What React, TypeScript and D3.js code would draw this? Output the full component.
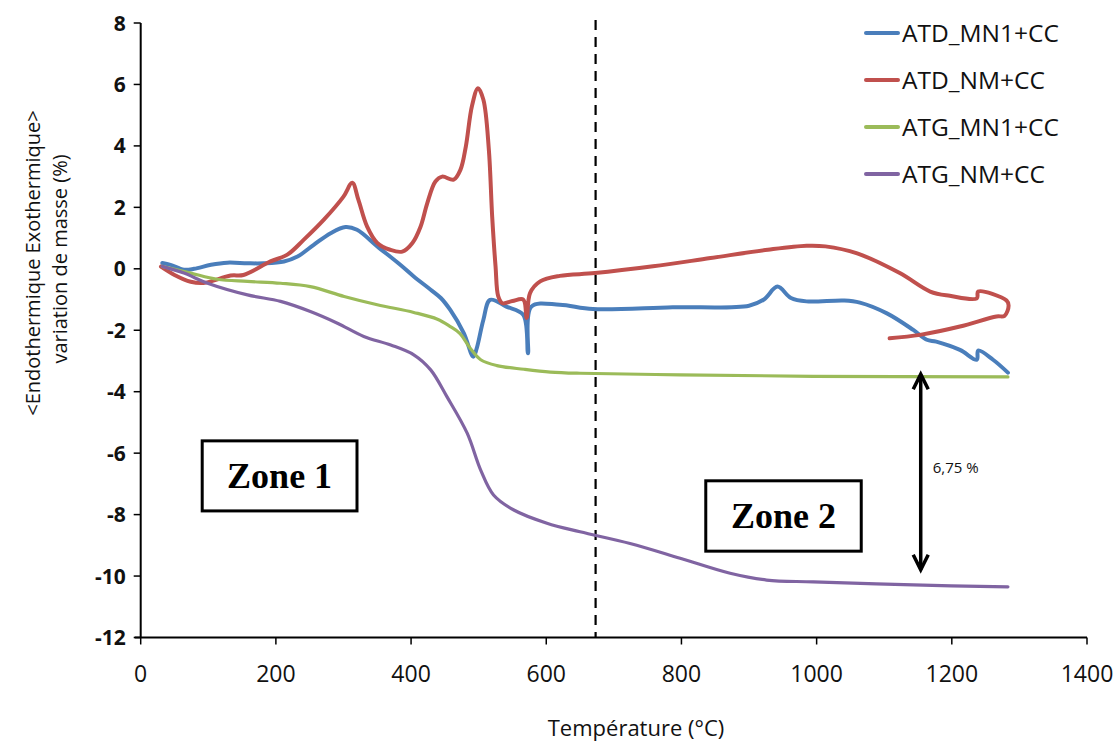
import React from "react";
import * as d3 from "d3";

type Pt = [number, number];

const seriesNames = ["ATD_MN1+CC", "ATD_NM+CC", "ATG_MN1+CC", "ATG_NM+CC"];
const seriesColors = ["#4a7ebb", "#c0504d", "#9bbb59", "#8064a2"];

const atdMN1: Pt[] = [[32,0.19],[44,0.13],[64,-0.03],[79,0],[104,0.13],[128,0.2],[158,0.18],[182,0.18],[212,0.24],[232,0.4],[256,0.78],[281,1.16],[303,1.36],[320,1.27],[350,0.73],[384,0.13],[404,-0.25],[429,-0.68],[444,-0.95],[458,-1.34],[478,-2.09],[492,-2.86],[497,-2.6],[507,-1.66],[517,-1.01],[541,-1.23],[566,-1.5],[573,-2.75],[578,-1.23],[620,-1.17],[669,-1.31],[787,-1.25],[900,-1.2],[922,-1.0],[942,-0.58],[962,-0.95],[985,-1.06],[1041,-1.03],[1064,-1.1],[1104,-1.45],[1143,-1.99],[1163,-2.31],[1177,-2.37],[1212,-2.64],[1237,-2.96],[1239,-2.66],[1261,-2.96],[1283,-3.38]];

const atdNM: Pt[] = [[30,0.07],[50,-0.2],[74,-0.42],[93,-0.46],[133,-0.22],[152,-0.2],[192,0.24],[217,0.46],[241,0.94],[271,1.6],[300,2.35],[313,2.8],[322,2.25],[335,1.37],[350,0.84],[369,0.62],[387,0.56],[402,0.84],[414,1.37],[424,2.14],[436,2.84],[446,3.0],[463,2.9],[473,3.22],[481,3.98],[490,5.29],[499,5.88],[507,5.5],[515,3.9],[520,1.7],[525,0.07],[529,-0.9],[535,-1.12],[550,-1.05],[566,-1.0],[571,-1.6],[576,-0.79],[591,-0.41],[620,-0.23],[672,-0.14],[758,0.08],[843,0.35],[928,0.62],[985,0.75],[1013,0.73],[1060,0.5],[1123,-0.14],[1168,-0.74],[1197,-0.88],[1237,-0.96],[1239,-0.74],[1281,-1.03],[1284,-1.2],[1278,-1.53],[1266,-1.55],[1212,-1.88],[1153,-2.15],[1108,-2.26]];

const atgMN1: Pt[] = [[32,0.08],[74,-0.14],[113,-0.34],[158,-0.41],[207,-0.47],[251,-0.58],[301,-0.9],[350,-1.17],[404,-1.42],[439,-1.64],[458,-1.88],[472,-2.1],[488,-2.6],[503,-2.96],[527,-3.15],[567,-3.27],[606,-3.36],[650,-3.4],[798,-3.45],[995,-3.5],[1283,-3.52]];

const atgNM: Pt[] = [[32,0.08],[64,-0.14],[99,-0.47],[158,-0.85],[207,-1.06],[251,-1.39],[291,-1.77],[330,-2.2],[370,-2.48],[404,-2.8],[429,-3.29],[453,-4.16],[483,-5.35],[503,-6.55],[522,-7.36],[552,-7.85],[601,-8.28],[650,-8.56],[724,-8.94],[798,-9.42],[872,-9.91],[926,-10.13],[995,-10.19],[1143,-10.29],[1283,-10.35]];

const seriesData = [atdMN1, atdNM, atgMN1, atgNM];
const seriesWidths = [4, 4, 3.2, 3.2];

const xTicks = [0, 200, 400, 600, 800, 1000, 1200, 1400];
const yTicks = [8, 6, 4, 2, 0, -2, -4, -6, -8, -10, -12];

const dashedX = 673;
const arrowX = 1154;
const arrowTop = -3.4;
const arrowBottom = -9.83;
const diffLabel = "6,75 %";
const zone1 = { label: "Zone 1", x0: 91, x1: 320, y0: -5.6, y1: -7.88 };
const zone2 = { label: "Zone 2", x0: 836, x1: 1066, y0: -6.9, y1: -9.19 };

const xTitle = "Température (°C)";
const yTitle1 = "<Endothermique Exothermique>";
const yTitle2 = "variation de masse (%)";

export default function App() {
  const x = d3.scaleLinear().domain([0, 1400]).range([140.7, 1087]);
  const y = d3.scaleLinear().domain([-12, 8]).range([637.5, 23]);
  const line = d3
    .line<Pt>()
    .x((d) => x(d[0]))
    .y((d) => y(d[1]))
    .curve(d3.curveCatmullRom.alpha(0.5));

  const sans = "'Open Sans', 'Noto Sans', sans-serif";
  const ax = x(0);
  const ay = y(-12);

  const zoneBox = (z: typeof zone1) => {
    const bx = x(z.x0), bw = x(z.x1) - x(z.x0);
    const by = y(z.y0), bh = y(z.y1) - y(z.y0);
    return (
      <g key={z.label}>
        <rect x={bx} y={by} width={bw} height={bh} fill="white" stroke="black" strokeWidth={3} />
        <text x={bx + bw / 2} y={by + bh / 2 + 12} textAnchor="middle" fontFamily="'Liberation Serif', serif" fontWeight="bold" fontSize={36}>
          {z.label}
        </text>
      </g>
    );
  };

  const axX = x(arrowX);
  const aTop = y(arrowTop);
  const aBot = y(arrowBottom);

  return (
    <svg width={1120} height={745} style={{ position: "absolute", left: 0, top: 0, background: "white" }}>
      <rect width={1120} height={745} fill="white" />
      <line x1={x(dashedX)} x2={x(dashedX)} y1={y(8) - 3} y2={ay} stroke="black" strokeWidth={2.2} strokeDasharray="10,7" />
      {seriesData.map((d, i) => (
        <path key={i} d={line(d) || ""} fill="none" stroke={seriesColors[i]} strokeWidth={seriesWidths[i]} strokeLinejoin="round" strokeLinecap="round" />
      ))}
      <line x1={ax} x2={ax} y1={y(8)} y2={ay} stroke="black" strokeWidth={2} />
      <line x1={ax - 6} x2={x(1400)} y1={ay} y2={ay} stroke="black" strokeWidth={2} />
      {yTicks.map((t) => (
        <g key={t}>
          <line x1={ax - 7} x2={ax} y1={y(t)} y2={y(t)} stroke="black" strokeWidth={1.5} />
          <text x={ax - 15} y={y(t)} dy="0.36em" textAnchor="end" fontFamily={sans} fontWeight="bold" fontSize={21} fill="#111">
            {t}
          </text>
        </g>
      ))}
      {xTicks.map((t) => (
        <g key={t}>
          <line x1={x(t)} x2={x(t)} y1={ay} y2={ay + 7} stroke="black" strokeWidth={1.5} />
          <text x={x(t)} y={674} dy="0.36em" textAnchor="middle" fontFamily={sans} fontSize={23} fill="#111">
            {t}
          </text>
        </g>
      ))}
      <text x={636} y={736} textAnchor="middle" fontFamily={sans} fontSize={22} fill="#111">
        {xTitle}
      </text>
      <text transform={`translate(33, 263) rotate(-90)`} textAnchor="middle" dy="0.35em" fontFamily={sans} fontSize={20} fill="#111">
        {yTitle1}
      </text>
      <text transform={`translate(60, 259) rotate(-90)`} textAnchor="middle" dy="0.35em" fontFamily={sans} fontSize={20} fill="#111">
        {yTitle2}
      </text>
      {seriesNames.map((n, i) => (
        <g key={n} transform={`translate(866, ${33 + i * 47})`}>
          <line x1={0} x2={32} y1={0} y2={0} stroke={seriesColors[i]} strokeWidth={4} strokeLinecap="round" />
          <text x={36} y={0} dy="0.36em" fontFamily={sans} fontSize={24.5} fill="#111">
            {n}
          </text>
        </g>
      ))}
      {zoneBox(zone1)}
      {zoneBox(zone2)}
      <line x1={axX} x2={axX} y1={aTop + 1} y2={aBot - 1} stroke="black" strokeWidth={3.5} />
      <polyline points={`${axX - 7.5},${aTop + 16} ${axX},${aTop + 1} ${axX + 7.5},${aTop + 16}`} fill="none" stroke="black" strokeWidth={3.5} />
      <polyline points={`${axX - 7.5},${aBot - 16} ${axX},${aBot - 1} ${axX + 7.5},${aBot - 16}`} fill="none" stroke="black" strokeWidth={3.5} />
      <text x={axX + 12} y={468} dy="0.35em" fontFamily={sans} fontSize={15} fill="#111">
        {diffLabel}
      </text>
    </svg>
  );
}
